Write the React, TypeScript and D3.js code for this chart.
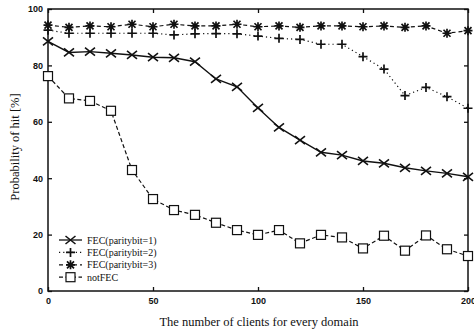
import { useEffect, useRef } from 'react';
import * as d3 from 'd3';

const clients = [0, 10, 20, 30, 40, 50, 60, 70, 80, 90, 100, 110, 120, 130, 140, 150, 160, 170, 180, 190, 200];

const fec1 = [88.5, 84.6, 84.9, 84.3, 83.7, 82.9, 82.7, 81.3, 75.2, 72.4, 64.9, 58.0, 53.5, 49.2, 48.2, 46.1, 45.3, 43.7, 42.6, 41.7, 40.5];
const fec2 = [92.5, 91.4, 91.4, 91.4, 91.4, 91.4, 90.8, 91.2, 91.3, 91.2, 90.4, 89.6, 89.2, 87.5, 87.5, 83.1, 78.7, 69.3, 72.2, 68.9, 64.8];
const fec3 = [94.3, 93.5, 94.0, 93.7, 94.6, 93.7, 94.6, 94.0, 94.0, 94.6, 93.7, 94.0, 93.5, 94.0, 94.0, 93.7, 94.0, 93.5, 94.0, 91.4, 92.3];
const notFec = [76.2, 68.3, 67.4, 63.9, 42.9, 32.6, 28.7, 27.0, 24.2, 21.6, 19.9, 21.6, 16.9, 19.9, 19.0, 15.1, 19.6, 14.3, 19.7, 14.8, 12.4];

const xTicks = [0, 50, 100, 150, 200];
const yTicks = [0, 20, 40, 60, 80, 100];

const seriesNames = ['FEC(paritybit=1)', 'FEC(paritybit=2)', 'FEC(paritybit=3)', 'notFEC'];

type Marker = 'x' | 'plus' | 'star' | 'square';

const series = [
  { name: seriesNames[0], values: fec1, dash: null, marker: 'x' as Marker },
  { name: seriesNames[1], values: fec2, dash: '1.2,3', marker: 'plus' as Marker },
  { name: seriesNames[2], values: fec3, dash: '4,3', marker: 'star' as Marker },
  { name: seriesNames[3], values: notFec, dash: '4,2.5', marker: 'square' as Marker },
];

const drawMarker = (sel: any, type: Marker) => {
  if (type === 'x') {
    sel.append('path').attr('d', 'M-5,-4L5,4M-5,4L5,-4')
      .attr('stroke', '#111').attr('stroke-width', 1.6).attr('fill', 'none');
  } else if (type === 'plus') {
    sel.append('path').attr('d', 'M-4.5,0L4.5,0M0,-4.5L0,4.5')
      .attr('stroke', '#111').attr('stroke-width', 1.7).attr('fill', 'none');
  } else if (type === 'star') {
    sel.append('path').attr('d', 'M-4.5,0L4.5,0M0,-4.5L0,4.5M-3.5,-3.5L3.5,3.5M-3.5,3.5L3.5,-3.5')
      .attr('stroke', '#111').attr('stroke-width', 1.7).attr('fill', 'none');
  } else {
    sel.append('rect').attr('x', -4.5).attr('y', -4.5).attr('width', 9).attr('height', 9)
      .attr('fill', '#fff').attr('stroke', '#111').attr('stroke-width', 1.2);
  }
};

const App = () => {
  const svgRef = useRef<SVGSVGElement>(null);
  const width = 474;
  const height = 333;

  useEffect(() => {
    const svg = d3.select(svgRef.current);
    svg.selectAll('*').remove();

    const left = 48, right = 468, top = 9, bottom = 291;

    const x = d3.scaleLinear().domain([0, 200]).range([left, right]);
    const y = d3.scaleLinear().domain([0, 100]).range([bottom, top]);

    svg.append('rect').attr('width', width).attr('height', height).attr('fill', '#fff');

    // frame
    svg.append('rect')
      .attr('x', left).attr('y', top)
      .attr('width', right - left).attr('height', bottom - top)
      .attr('fill', 'none').attr('stroke', '#111').attr('stroke-width', 1.5);

    const tickFont = (g: any) => {
      g.select('.domain').remove();
      g.selectAll('.tick line').attr('stroke', '#111').attr('stroke-width', 1.3);
      g.selectAll('text')
        .style('font-family', '"Liberation Sans", Arial, sans-serif')
        .style('font-size', '9px')
        .style('font-weight', 'bold')
        .attr('fill', '#111');
    };

    svg.append('g').attr('transform', `translate(${left},0)`)
      .call(d3.axisLeft(y).tickValues(yTicks).tickSize(-4).tickPadding(5).tickFormat(d3.format('d')))
      .call(tickFont);

    svg.append('g').attr('transform', `translate(0,${bottom})`)
      .call(d3.axisBottom(x).tickValues(xTicks).tickSize(-4).tickPadding(7).tickFormat(d3.format('d')))
      .call(tickFont);

    svg.append('g').attr('transform', `translate(${right},0)`)
      .call(d3.axisRight(y).tickValues(yTicks).tickSize(-4).tickFormat(() => ''))
      .call(tickFont);

    svg.append('g').attr('transform', `translate(0,${top})`)
      .call(d3.axisTop(x).tickValues(xTicks).tickSize(-4).tickFormat(() => ''))
      .call(tickFont);

    const line = d3.line<number>()
      .x((d, i) => x(clients[i]))
      .y(d => y(d));

    series.forEach(s => {
      svg.append('path')
        .datum(s.values)
        .attr('d', line)
        .attr('fill', 'none')
        .attr('stroke', '#111')
        .attr('stroke-width', s.marker === 'x' ? 1.4 : 1.2)
        .attr('stroke-dasharray', s.dash);

      const pts = svg.append('g').selectAll('g')
        .data(s.values)
        .enter()
        .append('g')
        .attr('transform', (d, i) => `translate(${x(clients[i])},${y(d)})`);
      pts.each(function () { drawMarker(d3.select(this), s.marker); });
    });

    // legend
    const legend = svg.append('g').attr('transform', 'translate(59,240)');
    series.forEach((s, i) => {
      const row = legend.append('g').attr('transform', `translate(0,${i * 12.4})`);
      row.append('line')
        .attr('x1', 0).attr('x2', 23)
        .attr('stroke', '#111').attr('stroke-width', 1.3)
        .attr('stroke-dasharray', s.dash);
      drawMarker(row.append('g').attr('transform', 'translate(11.5,0)'), s.marker);
      row.append('text')
        .attr('x', 28).attr('y', 3.5)
        .style('font-family', '"Liberation Serif", "Times New Roman", serif')
        .style('font-size', '10px')
        .attr('fill', '#111')
        .text(s.name);
    });

    // axis titles
    svg.append('text')
      .attr('x', (left + right) / 2 + 1).attr('y', 326)
      .attr('text-anchor', 'middle')
      .style('font-family', '"Liberation Serif", "Times New Roman", serif')
      .style('font-size', '12.5px')
      .attr('fill', '#111')
      .text('The number of clients for every domain');

    svg.append('text')
      .attr('transform', 'translate(19,147) rotate(-90)')
      .attr('text-anchor', 'middle')
      .style('font-family', '"Liberation Serif", "Times New Roman", serif')
      .style('font-size', '12.5px')
      .attr('fill', '#111')
      .text('Probability of hit [%]');
  }, []);

  return (
    <svg ref={svgRef} width={width} height={height}
      style={{ position: 'absolute', left: 0, top: 0 }} />
  );
};

export default App;
